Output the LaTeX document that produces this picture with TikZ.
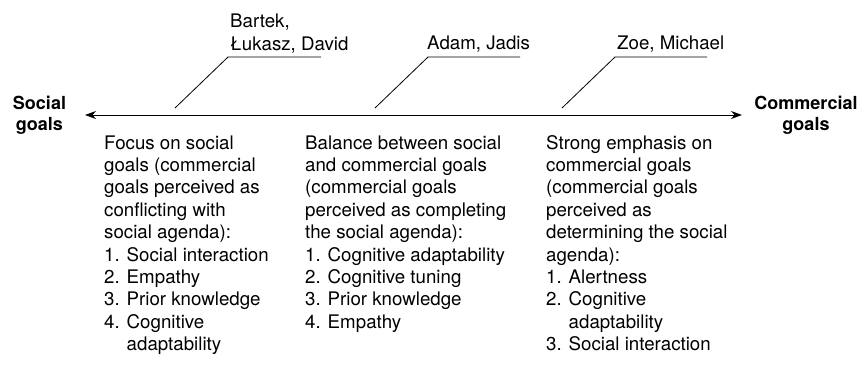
\documentclass[tikz,border=0pt]{standalone}
\usepackage{fontspec}
\setmainfont{TeX Gyre Heros}
\usetikzlibrary{arrows.meta}
\begin{document}
\begin{tikzpicture}[x=1pt,y=-1pt,
  body/.style={inner sep=0pt, anchor=base west, font=\fontsize{18.7}{22.4}\selectfont},
  pole/.style={inner sep=0pt, anchor=base, font=\fontsize{18}{21}\selectfont\bfseries},
  leader/.style={line width=0.8pt},
  axis/.style={line width=1pt,
    {Stealth[length=11pt,width=8pt]}-{Stealth[length=11pt,width=8pt]}}]
\useasboundingbox (0,0) rectangle (865,367);

% the continuum between the two kinds of goals
\coordinate (axisL) at (85,115);
\coordinate (axisR) at (742,115);
\draw[axis] (axisL) -- (axisR);

\node[pole] (social) at (39.5,109)
  {\parbox[t]{80pt}{\centering Social\\goals}};
\node[pole] (commercial) at (806,109)
  {\parbox[t]{110pt}{\centering Commercial\\goals}};

% names of the entrepreneurs placed along the axis
\node[body] (grpA) at (230,27.6)
  {\parbox[t]{150pt}{\raggedright Bartek,\\Łukasz, David}};
\node[body] (grpB) at (427,49) {Adam, Jadis};
\node[body] (grpC) at (617,49) {Zoe, Michael};

\coordinate (a0) at (175,108); \coordinate (a1) at (228,57); \coordinate (a2) at (321,57);
\coordinate (b0) at (375,108); \coordinate (b1) at (428,57); \coordinate (b2) at (520,57);
\coordinate (c0) at (562,108); \coordinate (c1) at (615,57); \coordinate (c2) at (707,57);
\draw[leader] (a0) -- (a1) -- (a2);
\draw[leader] (b0) -- (b1) -- (b2);
\draw[leader] (c0) -- (c1) -- (c2);

% descriptions below the axis
\node[body] (descA) at (104,149)
  {\parbox[t]{190pt}{\raggedright
    Focus on social\\
    goals (commercial\\
    goals perceived as\\
    conflicting with\\
    social agenda):\\
    1. Social interaction\\
    2. Empathy\\
    3. Prior knowledge\\
    4. Cognitive\\
    \hphantom{4. }adaptability}};
\node[body] (descB) at (305,149)
  {\parbox[t]{220pt}{\raggedright
    Balance between social\\
    and commercial goals\\
    (commercial goals\\
    perceived as completing\\
    the social agenda):\\
    1. Cognitive adaptability\\
    2. Cognitive tuning\\
    3. Prior knowledge\\
    4. Empathy}};
\node[body] (descC) at (546,149)
  {\parbox[t]{200pt}{\raggedright
    Strong emphasis on\\
    commercial goals\\
    (commercial goals\\
    perceived as\\
    determining the social\\
    agenda):\\
    1. Alertness\\
    2. Cognitive\\
    \hphantom{2. }adaptability\\
    3. Social interaction}};
\end{tikzpicture}
\end{document}
